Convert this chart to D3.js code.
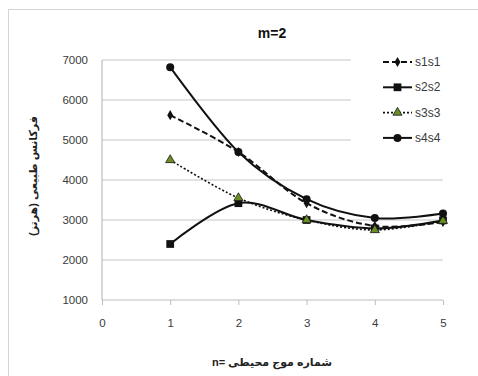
<!DOCTYPE html>
<html>
<head>
<meta charset="utf-8">
<script src="https://cdn.jsdelivr.net/npm/d3@7"></script>
<style>
  body { margin: 0; background: #fff; }
  svg { display: block; font-family: "Liberation Sans", "DejaVu Sans", sans-serif; }
</style>
</head>
<body>
<div id="chart"></div>
<script>
// wave numbers and natural frequencies (Hz) per mode pair
const nValues = [1, 2, 3, 4, 5];
const s1s1 = [5620, 4700, 3420, 2850, 2950];
const s2s2 = [2400, 3420, 3000, 2790, 2990];
const s3s3 = [4500, 3550, 3000, 2750, 2980];
const s4s4 = [6820, 4700, 3520, 3050, 3160];
const seriesNames = ['s1s1', 's2s2', 's3s3', 's4s4'];
const xTicks = [0, 1, 2, 3, 4, 5];
const yTicks = [1000, 2000, 3000, 4000, 5000, 6000, 7000];

const W = 478, H = 376;
const margin = { top: 60, right: 35, bottom: 76, left: 102 };
const width = W - margin.left - margin.right;
const height = H - margin.top - margin.bottom;

const svg = d3.select('#chart').append('svg')
    .attr('width', W)
    .attr('height', H);

// outer chart frame
svg.append('rect')
    .attr('x', 8.5).attr('y', 9.5)
    .attr('width', W + 10).attr('height', H + 10)
    .attr('fill', '#fff')
    .attr('stroke', '#d4d4d4');

const g = svg.append('g')
    .attr('transform', 'translate(' + margin.left + ',' + margin.top + ')');

const x = d3.scaleLinear().domain([0, 5]).range([0, width]);
const y = d3.scaleLinear().domain([1000, 7000]).range([height, 0]);

// horizontal gridlines
g.selectAll('.grid')
    .data(yTicks.filter((d) => d > 1000))
    .enter()
    .append('line')
    .attr('x1', 0).attr('x2', width)
    .attr('y1', (d) => y(d)).attr('y2', (d) => y(d))
    .attr('stroke', '#c6c6c6')
    .attr('stroke-width', 1.2);

const yAxis = g.append('g')
    .call(d3.axisLeft(y).tickValues(yTicks).tickFormat(d3.format('d'))
        .tickSize(0).tickPadding(14));
const xAxis = g.append('g')
    .attr('transform', 'translate(0,' + height + ')')
    .call(d3.axisBottom(x).tickValues(xTicks).tickFormat(d3.format('d'))
        .tickSize(5).tickPadding(14));

[yAxis, xAxis].forEach((ax) => {
    ax.select('.domain').attr('stroke', '#bdbdbd').attr('stroke-width', 1.2);
    ax.selectAll('.tick line').attr('stroke', '#bdbdbd');
    ax.selectAll('.tick text')
        .attr('fill', '#3a3a3a')
        .style('font-size', '11.5px');
});
yAxis.select('.domain').attr('d', 'M0,0V' + height);
xAxis.select('.domain').attr('d', 'M0,0H' + width);

const line = d3.line()
    .x((d, i) => x(nValues[i]))
    .y((d) => y(d))
    .curve(d3.curveCatmullRom.alpha(0));

const styles = {
    s1s1: { data: s1s1, dash: '6,3', width: 2, marker: 'diamond' },
    s2s2: { data: s2s2, dash: null, width: 2, marker: 'square' },
    s3s3: { data: s3s3, dash: '2,2', width: 1.6, marker: 'triangle' },
    s4s4: { data: s4s4, dash: null, width: 2, marker: 'circle' },
};

function drawMarker(sel, type, cx, cy) {
    if (type === 'diamond') {
        sel.append('path')
            .attr('d', d3.symbol(d3.symbolDiamond, 30)())
            .attr('transform', 'translate(' + cx + ',' + cy + ')')
            .attr('fill', '#111');
    } else if (type === 'square') {
        sel.append('path')
            .attr('d', d3.symbol(d3.symbolSquare, 60)())
            .attr('transform', 'translate(' + cx + ',' + cy + ')')
            .attr('fill', '#111');
    } else if (type === 'triangle') {
        sel.append('path')
            .attr('d', d3.symbol(d3.symbolTriangle, 36)())
            .attr('transform', 'translate(' + cx + ',' + cy + ')')
            .attr('fill', '#6b8e23')
            .attr('stroke', '#1a1a1a')
            .attr('stroke-width', 0.8);
    } else {
        sel.append('circle')
            .attr('cx', cx).attr('cy', cy).attr('r', 4)
            .attr('fill', '#111');
    }
}

seriesNames.forEach((name) => {
    const s = styles[name];
    g.append('path')
        .datum(s.data)
        .attr('d', line)
        .attr('fill', 'none')
        .attr('stroke', '#111')
        .attr('stroke-width', s.width)
        .attr('stroke-dasharray', s.dash);
    s.data.forEach((v, i) => drawMarker(g, s.marker, x(nValues[i]), y(v)));
});

// legend box covers the gridline ends on the right
const legend = svg.append('g').attr('transform', 'translate(351,48)');
legend.append('rect')
    .attr('x', 0).attr('y', 0)
    .attr('width', 120).attr('height', 102)
    .attr('fill', '#fff');
seriesNames.forEach((name, i) => {
    const s = styles[name];
    const ly = 14 + i * 25.3;
    legend.append('line')
        .attr('x1', 32).attr('x2', 61)
        .attr('y1', ly).attr('y2', ly)
        .attr('stroke', '#111')
        .attr('stroke-width', s.width)
        .attr('stroke-dasharray', s.dash);
    drawMarker(legend, s.marker, 46.5, ly);
    legend.append('text')
        .attr('x', 64).attr('y', ly + 4)
        .attr('fill', '#3a3a3a')
        .style('font-size', '12px')
        .text(name);
});

// titles
svg.append('text')
    .attr('x', 272).attr('y', 38)
    .attr('text-anchor', 'middle')
    .attr('fill', '#111')
    .style('font-size', '14px')
    .style('font-weight', 'bold')
    .text('m=2');

svg.append('text')
    .attr('transform', 'translate(37,176) rotate(-90)')
    .attr('text-anchor', 'middle')
    .attr('direction', 'rtl')
    .attr('fill', '#222')
    .style('font-size', '11px')
    .style('font-weight', 'bold')
    .text('فرکانس طبیعی (هرتز)');

svg.append('text')
    .attr('x', 272).attr('y', 366)
    .attr('text-anchor', 'middle')
    .attr('direction', 'ltr')
    .attr('fill', '#222')
    .style('font-size', '11px')
    .style('font-weight', 'bold')
    .text('n= شماره موج محیطی');
</script>
</body>
</html>
